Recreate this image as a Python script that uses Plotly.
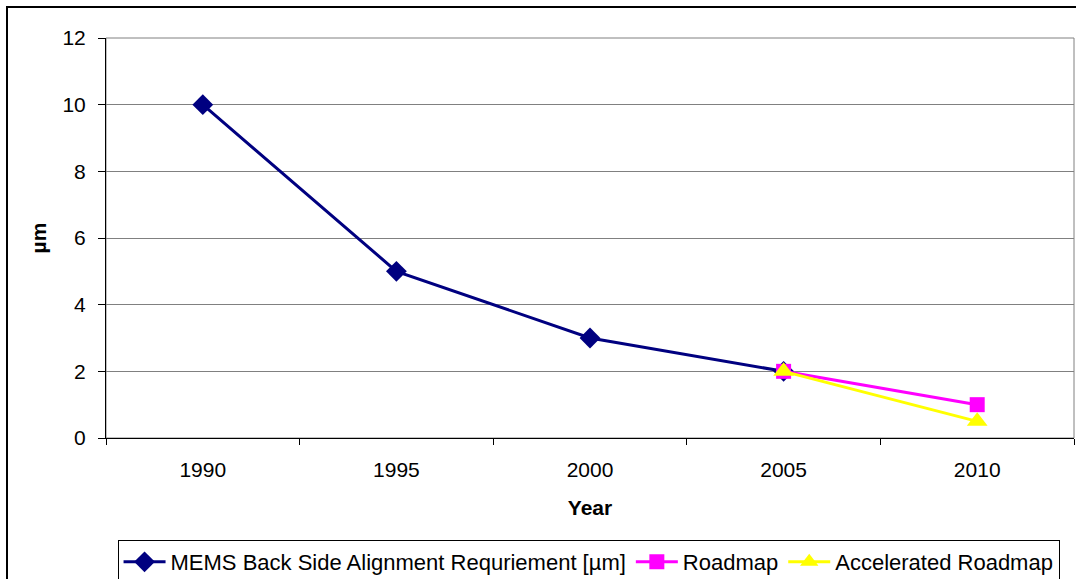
import plotly.graph_objects as go

years = ["1990", "1995", "2000", "2005", "2010"]
mems = [10, 5, 3, 2, None]
roadmap = [None, None, None, 2, 1]
accelerated = [None, None, None, 2, 0.5]
y_ticks = [0, 2, 4, 6, 8, 10, 12]

W, H = 1076, 579
L, T, R, B = 106, 38, 2, 141
pw, ph = W - L - R, H - T - B

fig = go.Figure()
fig.add_trace(go.Scatter(x=years, y=mems, mode="lines+markers",
                         name="MEMS Back Side Alignment Requriement [µm]",
                         line=dict(color="#000080", width=3),
                         marker=dict(symbol="diamond", size=16, color="#000080")))
fig.add_trace(go.Scatter(x=years, y=roadmap, mode="lines+markers", name="Roadmap",
                         line=dict(color="#FF00FF", width=3),
                         marker=dict(symbol="square", size=15, color="#FF00FF")))
fig.add_trace(go.Scatter(x=years, y=accelerated, mode="lines+markers", name="Accelerated Roadmap",
                         line=dict(color="#FFFF00", width=3),
                         marker=dict(symbol="triangle-up", size=18, color="#FFFF00")))

fam = "Liberation Sans, Arial, sans-serif"
font = dict(family=fam, size=21, color="black")

fig.update_layout(
    width=W, height=H,
    margin=dict(l=L, r=R, t=T, b=B, autoexpand=False),
    paper_bgcolor="white", plot_bgcolor="white",
    font=font,
    showlegend=True,
    legend=dict(orientation="h", x=0.4985, xanchor="center", y=(T + ph - 562) / ph, yanchor="middle",
                bordercolor="black", borderwidth=1, bgcolor="white",
                font=dict(family=fam, size=22, color="black"),
                itemwidth=42, tracegroupgap=0),
    xaxis=dict(type="category", range=[-0.5, 4.5], showgrid=False, automargin=False,
               ticks="outside", tickson="boundaries", ticklen=6, tickcolor="black",
               showline=True, linecolor="black", linewidth=1,
               ticklabelstandoff=13,
               title=dict(text="<b>Year</b>", font=dict(family=fam, size=21), standoff=20),
               tickfont=font),
    yaxis=dict(range=[0, 12], tickvals=y_ticks, showgrid=True, gridcolor="#808080", gridwidth=1,
               ticks="outside", ticklen=7, tickcolor="black", automargin=False,
               showline=True, linecolor="black", linewidth=1, zeroline=False,
               ticklabelstandoff=8,
               title=dict(text="<b>µm</b>", font=dict(family=fam, size=21), standoff=10),
               tickfont=font),
    shapes=[
        dict(type="rect", xref="paper", yref="paper", x0=0, x1=1, y0=0, y1=1,
             line=dict(color="#808080", width=1), layer="below"),
        dict(type="rect", xref="paper", yref="paper",
             x0=(7 - L) / pw, x1=(W + 10 - L) / pw,
             y0=(T + ph - (H + 10)) / ph, y1=(T + ph - 7) / ph,
             line=dict(color="black", width=2), layer="below"),
    ],
)

fig.write_html("out.html")
